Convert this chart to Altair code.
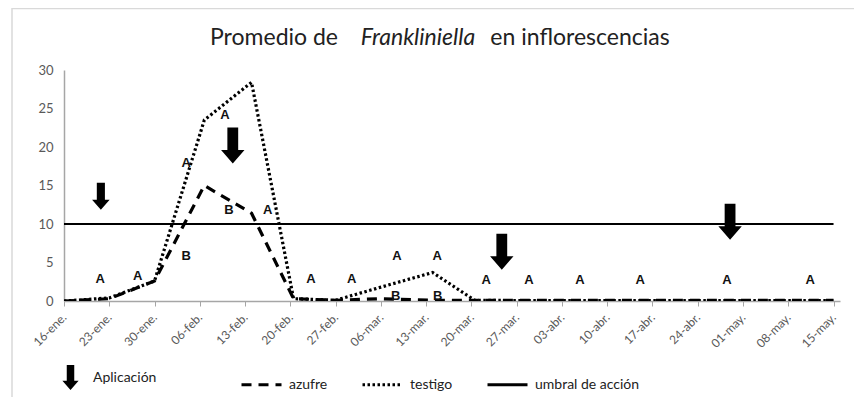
import altair as alt
import pandas as pd

# ---------------- data ----------------
etiquetas_x = ["16-ene.", "23-ene.", "30-ene.", "06-feb.", "13-feb.", "20-feb.",
               "27-feb.", "06-mar.", "13-mar.", "20-mar.", "27-mar.", "03-abr.",
               "10-abr.", "17-abr.", "24-abr.", "01-may.", "08-may.", "15-may."]
dias_eje = [0, 7, 14, 21, 28, 35, 42, 49, 56, 63, 70, 77, 84, 91, 98, 105, 112, 119]
# sampling days (days after 16-ene)
dias_muestreo = [0, 7, 14, 21.7, 29, 35.5, 42, 49, 57, 63.5, 70, 77, 84, 91, 98, 105, 112, 119]
azufre = [0, 0.3, 2.6, 15.0, 11.4, 0.3, 0.1, 0.3, 0.1, 0.1,
          0.1, 0.1, 0.1, 0.1, 0.1, 0.1, 0.1, 0.1]
testigo = [0, 0.4, 2.6, 23.5, 28.4, 0.3, 0.1, 1.8, 3.7, 0.1,
           0.05, 0.05, 0.05, 0.05, 0.05, 0.05, 0.05, 0.05]
umbral = [10, 10, 10, 10, 10, 10, 10, 10, 10, 10, 10, 10, 10, 10, 10, 10, 10, 10]
valores_y = [0, 5, 10, 15, 20, 25, 30]

letras_dia = [5.6, 11.4, 18.9, 18.9, 24.9, 25.5, 31.5, 38.2, 44.5, 51.5, 51.3,
              57.7, 57.8, 65.3, 71.9, 79.8, 89.1, 102.5, 115.4]
letras_valor = [2.9, 3.2, 17.9, 5.8, 24.2, 11.8, 11.8, 2.9, 2.9, 5.8, 0.6,
                5.8, 0.6, 2.7, 2.7, 2.7, 2.7, 2.7, 2.7]
letras_texto = ["A", "A", "A", "B", "A", "B", "A", "A", "A", "A", "B",
                "A", "B", "A", "A", "A", "A", "A", "A"]

flechas_dia = [5.7, 26.1, 67.7, 103.0]
flechas_valor = [13.6, 20.2, 6.4, 10.3]

series = ["azufre", "testigo", "umbral de acción"]

W, H = 776, 231
FONT = "Lato"
ARROW = "M-0.3,-1 L0.3,-1 L0.3,0.25 L0.65,0.25 L0,1 L-0.65,0.25 L-0.3,0.25 Z"

df_curvas = pd.DataFrame({
    "dia": dias_muestreo + dias_muestreo,
    "valor": azufre + testigo,
    "serie": ["azufre"] * len(dias_muestreo) + ["testigo"] * len(dias_muestreo),
})
df_umbral = pd.DataFrame({"dia": dias_eje, "valor": umbral,
                          "serie": ["umbral de acción"] * len(dias_eje)})
df_letras = pd.DataFrame({"dia": letras_dia, "valor": letras_valor, "texto": letras_texto})
df_flechas = pd.DataFrame({"dia": flechas_dia, "valor": flechas_valor,
                           "tipo": ["Aplicación"] * len(flechas_dia)})
uno = pd.DataFrame({"k": [0]})

label_expr = "[" + ",".join("'%s'" % e for e in etiquetas_x) + "][round(datum.value/7)]"

x_enc = alt.X("dia:Q",
              scale=alt.Scale(domain=[0, 120], nice=False, zero=False),
              axis=alt.Axis(values=dias_eje, labelExpr=label_expr, title=None, grid=False,
                            labelAngle=-45, labelAlign="right", labelBaseline="middle",
                            tickSize=5, labelPadding=9, labelOverlap=False,
                            labelFontSize=12, labelFlush=False, labelBound=False))
y_enc = alt.Y("valor:Q",
              scale=alt.Scale(domain=[0, 30], nice=False),
              axis=alt.Axis(values=valores_y, ticks=False, grid=False, title=None,
                            labelPadding=11, labelFontSize=13))

dash_scale = alt.Scale(domain=series, range=[[10, 7], [2.5, 2.5], [1, 0]])
dash_legend = alt.Legend(orient="none", legendX=176, legendY=293, direction="horizontal",
                         columns=3, title=None, symbolType="stroke", symbolSize=1600,
                         symbolStrokeWidth=3, symbolStrokeColor="black",
                         labelFontSize=14, labelFont=FONT, labelColor="#222222",
                         columnPadding=28, labelOffset=6, padding=0)

borde = alt.Chart(uno).mark_rect(fillOpacity=0, stroke="#D9D9D9", strokeWidth=1.5).encode(
    x=alt.value(-52), y=alt.value(-61.5), x2=alt.value(W + 40), y2=alt.value(H + 140))

curvas = alt.Chart(df_curvas).mark_line(color="black", strokeWidth=3.2, clip=True).encode(
    x=x_enc, y=y_enc,
    strokeDash=alt.StrokeDash("serie:N", scale=dash_scale, legend=dash_legend),
    detail="serie:N")

linea_umbral = alt.Chart(df_umbral).mark_line(color="black", strokeWidth=2).encode(
    x=x_enc, y=y_enc,
    strokeDash=alt.StrokeDash("serie:N", scale=dash_scale, legend=dash_legend))

letras = alt.Chart(df_letras).mark_text(font="Liberation Sans", fontWeight="bold",
                                        fontSize=13, color="#111111").encode(
    x=x_enc, y=y_enc, text="texto:N")

flechas = alt.Chart(df_flechas).mark_point(filled=True, color="black", opacity=1,
                                           strokeWidth=0).encode(
    x=x_enc, y=y_enc,
    size=alt.condition("datum.dia < 10", alt.value(729), alt.value(1300)),
    shape=alt.Shape("tipo:N", scale=alt.Scale(domain=["Aplicación"], range=[ARROW]),
                    legend=alt.Legend(orient="none", legendX=-6, legendY=295, title=None,
                                      symbolSize=625, symbolFillColor="black",
                                      symbolStrokeColor="black", symbolStrokeWidth=0,
                                      symbolOpacity=1, labelFontSize=14, labelFont=FONT,
                                      labelColor="#222222", labelOffset=10, padding=0)))

TS = 23
t1 = alt.Chart(uno).mark_text(text="Promedio de", font=FONT, fontSize=TS, align="center",
                              baseline="middle", color="#222222").encode(
    x=alt.value(210), y=alt.value(-32))
t2 = alt.Chart(uno).mark_text(text="Frankliniella", font=FONT, fontSize=TS, fontStyle="italic",
                              align="center", baseline="middle", color="#222222").encode(
    x=alt.value(354), y=alt.value(-32))
t3 = alt.Chart(uno).mark_text(text="en inflorescencias", font=FONT, fontSize=TS, align="center",
                              baseline="middle", color="#222222").encode(
    x=alt.value(516), y=alt.value(-32))

chart = alt.layer(borde, linea_umbral, curvas, letras, flechas, t1, t2, t3).properties(
    width=W, height=H,
    autosize=alt.AutoSizeParams(type="none"),
    padding={"left": 56, "top": 62, "right": 14, "bottom": 96},
).configure_view(stroke=None).configure_axis(
    domainColor="#A6A6A6", tickColor="#A6A6A6", labelColor="#595959", labelFont=FONT,
    domainWidth=1.5,
)

chart.save("out.html", embed_options={"renderer": "svg", "actions": False})
